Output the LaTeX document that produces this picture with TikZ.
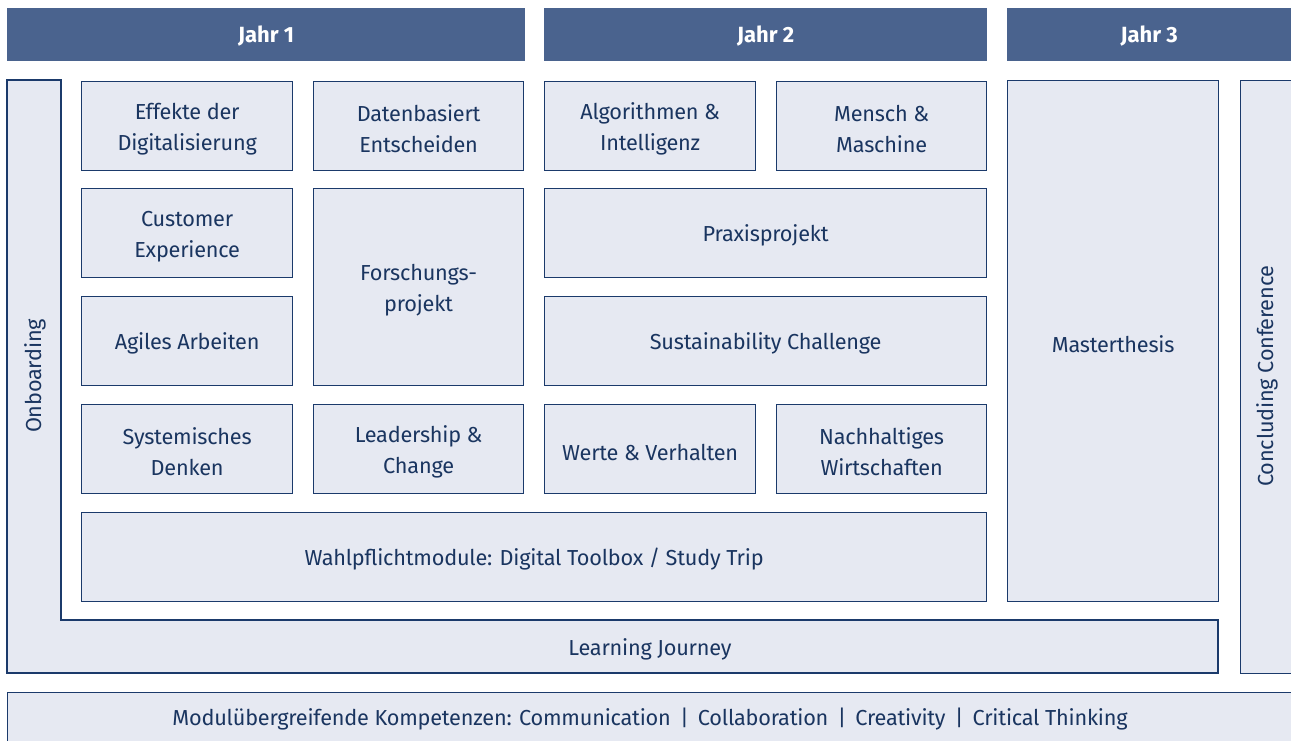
\documentclass[tikz,border=0pt]{standalone}
\usepackage{fontspec}
\setmainfont{Fira Sans}
\definecolor{hdr}{HTML}{4A638E}
\definecolor{boxfill}{HTML}{E6E9F2}
\definecolor{boxline}{HTML}{1B3A6B}
\definecolor{txt}{HTML}{1A3560}
\newcommand\firstlinestrut{\rule{0pt}{22pt}}
\tikzset{
  box/.style={draw=boxline, fill=boxfill, line width=1.3pt, anchor=north west, inner sep=0pt,
    align=center, text=txt, font=\fontsize{21.7}{31.5}\selectfont\addfontfeatures{LetterSpace=-1},
    execute at begin node={\firstlinestrut}},
  hdrbox/.style={fill=hdr, anchor=north west, inner sep=0pt, text=white,
    font=\fontsize{22}{24}\selectfont\bfseries, execute at begin node={\rule{0pt}{19pt}}},
  lbl/.style={text=txt, font=\fontsize{21.7}{31.5}\selectfont\addfontfeatures{LetterSpace=-1}, inner sep=0pt}
}
\begin{document}
\begin{tikzpicture}[x=1pt,y=-1pt]
\useasboundingbox (0,0) rectangle (1291,740);
\clip (0,0) rectangle (1291,740);
% headers
\node[hdrbox, minimum width=518pt, minimum height=53pt] (j1) at (7,8) {Jahr 1};
\node[hdrbox, minimum width=443pt, minimum height=53pt] (j2) at (544,8) {Jahr 2};
\node[hdrbox, minimum width=284pt, minimum height=53pt] (j3) at (1007,8) {Jahr 3};
% L shape onboarding / learning journey
\draw[draw=boxline, fill=boxfill, line width=1.3pt] (7,80) -- (61,80) -- (61,620) -- (1218,620) -- (1218,673) -- (7,673) -- cycle;
\node[lbl, rotate=90] (onb) at (35,376) {Onboarding};
\node[lbl] (lj) at (650,649) {Learning Journey};
% row 1
\node[box, minimum width=211pt, minimum height=89pt] (eff) at (81,81) {\firstlinestrut Effekte der\\Digitalisierung};
\node[box, minimum width=210pt, minimum height=89pt] (dat) at (313,81) {\firstlinestrut Datenbasiert\\Entscheiden};
\node[box, minimum width=211pt, minimum height=89pt] (alg) at (544,81) {\firstlinestrut Algorithmen \&\\Intelligenz};
\node[box, minimum width=210pt, minimum height=89pt] (men) at (776,81) {\firstlinestrut Mensch \&\\Maschine};
% row 2
\node[box, minimum width=211pt, minimum height=89pt] (cus) at (81,188) {\firstlinestrut Customer\\Experience};
\node[box, minimum width=210pt, minimum height=197pt] (for) at (313,188) {\firstlinestrut Forschungs-\\projekt};
\node[box, minimum width=442pt, minimum height=89pt] (pra) at (544,188) {Praxisprojekt};
% row 3
\node[box, minimum width=211pt, minimum height=89pt] (agi) at (81,296) {Agiles Arbeiten};
\node[box, minimum width=442pt, minimum height=89pt] (sus) at (544,296) {Sustainability Challenge};
% row 4
\node[box, minimum width=211pt, minimum height=89pt] (sys) at (81,404) {\firstlinestrut Systemisches\\Denken};
\node[box, minimum width=210pt, minimum height=89pt] (lea) at (313,404) {\firstlinestrut Leadership \&\\Change};
\node[box, minimum width=211pt, minimum height=89pt] (wer) at (544,404) {Werte \& Verhalten};
\node[box, minimum width=210pt, minimum height=89pt] (nac) at (776,404) {\firstlinestrut Nachhaltiges\\Wirtschaften};
% Wahlpflicht
\node[box, minimum width=905pt, minimum height=89pt] (wah) at (81,512) {Wahlpflichtmodule: Digital Toolbox / Study Trip};
% Masterthesis
\node[box, minimum width=211pt, minimum height=521pt] (mas) at (1007,80) {Masterthesis};
% Concluding
\node[box, minimum width=52pt, minimum height=593pt] (con) at (1240,80) {};
\node[lbl, rotate=90] (conl) at (1267,376) {Concluding Conference};
% Modul
\node[box, minimum width=1290pt, minimum height=60pt] (mod) at (7,692) {};
\node[lbl] (modl) at (650,719) {Modulübergreifende Kompetenzen: Communication \,|\, Collaboration \,|\, Creativity \,|\, Critical Thinking};
\end{tikzpicture}
\end{document}
